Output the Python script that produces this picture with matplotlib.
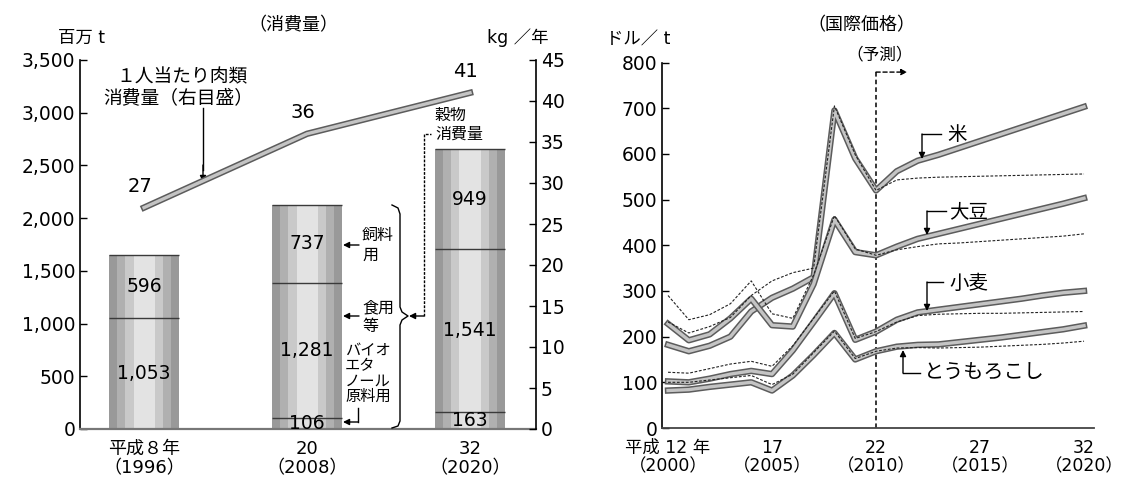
import matplotlib
matplotlib.use("Agg")
import matplotlib.pyplot as plt
from matplotlib.lines import Line2D

plt.rcParams['font.family'] = ['DejaVu Sans', 'Noto Sans CJK JP']

W, H = 1122, 478

# left panel: consumption (million t) and meat per person (kg/year)
cons_labels = ["平成８年\n（1996）", "20\n（2008）", "32\n（2020）"]
bio = [0, 106, 163]
food = [1053, 1281, 1541]
feed = [596, 737, 949]
meat = [27, 36, 41]

# right panel: international prices (USD/t), thick = nominal, thin = real
years = list(range(2000, 2021))
rice = [182, 168, 180, 200, 255, 285, 305, 330, 695, 590, 520,
        562, 585, 598, 613, 628, 643, 658, 673, 688, 703]
rice_real = [232, 208, 222, 242, 290, 322, 340, 350, 705, 598, 520,
             543, 547, 549, 550, 551, 552, 553, 554, 555, 556]
soy = [228, 192, 205, 240, 283, 225, 222, 315, 456, 385, 378,
       397, 414, 425, 436, 447, 458, 469, 480, 491, 503]
soy_real = [290, 237, 248, 272, 322, 250, 240, 335, 465, 392, 378,
            390, 397, 403, 405, 408, 411, 414, 417, 420, 425]
wheat = [102, 100, 108, 118, 125, 118, 170, 232, 295, 193, 211,
         237, 253, 259, 265, 271, 277, 283, 290, 296, 300]
wheat_real = [122, 120, 130, 140, 146, 135, 180, 240, 300, 196, 211,
              232, 246, 249, 250, 251, 251, 252, 253, 254, 255]
corn = [82, 84, 90, 95, 100, 82, 115, 160, 208, 150, 168,
        178, 182, 183, 188, 193, 198, 204, 210, 216, 224]
corn_real = [100, 100, 105, 110, 115, 95, 118, 165, 212, 152, 168,
             175, 176, 175, 176, 177, 179, 181, 183, 186, 190]
price_ticks = [2000, 2005, 2010, 2015, 2020]
price_labels = ["平成 12 年\n（2000）", "17\n（2005）", "22\n（2010）",
                "27\n（2015）", "32\n（2020）"]


def fx(px):
    return px / W


def fy(py):
    return 1 - py / H


fig = plt.figure(figsize=(W / 100, H / 100), dpi=100)


def ftext(x, y, s, size=12, ha='center'):
    fig.text(fx(x), fy(y), s, ha=ha, va='center', fontsize=size)


def fline(xs, ys, **kw):
    fig.add_artist(Line2D([fx(v) for v in xs], [fy(v) for v in ys],
                          transform=fig.transFigure, color='k', lw=1, **kw))


def farrow(ax, x0, y0, x1, y1, ls='-'):
    ax.annotate('', xy=(fx(x1), fy(y1)), xytext=(fx(x0), fy(y0)),
                xycoords='figure fraction', annotation_clip=False,
                arrowprops=dict(arrowstyle='-|>', color='k', lw=1,
                                linestyle=ls, mutation_scale=9,
                                shrinkA=0, shrinkB=0))


def thick(ax, x, y):
    ax.plot(x, y, color='#5c5c5c', lw=4.6, solid_joinstyle='round', zorder=3)
    ax.plot(x, y, color='#c4c4c4', lw=2.4, solid_joinstyle='round', zorder=3)


# ---------- left panel ----------
ax = fig.add_axes([80 / W, 49 / H, 456 / W, 369 / H])
x = list(range(len(cons_labels)))
bw = 0.43
shades = [(1.0, '#999999'), (0.78, '#b0b0b0'), (0.55, '#c9c9c9'), (0.3, '#e3e3e3')]
bottoms = [0, 0, 0]
for seg in (bio, food, feed):
    for frac, col in shades:
        ax.bar(x, seg, bottom=bottoms, width=bw * frac, color=col, lw=0, zorder=2)
    for i, v in enumerate(seg):
        if v > 0:
            ax.text(i, bottoms[i] + v / 2, f"{v:,}", ha='center', va='center',
                    fontsize=13.5, zorder=4)
            ax.hlines(bottoms[i] + v, i - bw / 2, i + bw / 2,
                      color='#3a3a3a', lw=1, zorder=3)
    bottoms = [b + v for b, v in zip(bottoms, seg)]

ax.set_xlim(-0.393, 2.405)
ax.set_ylim(0, 3500)
ax.set_yticks(range(0, 3501, 500))
ax.set_yticklabels([f"{v:,}" for v in range(0, 3501, 500)])
ax.set_xticks(x)
ax.set_xticklabels(cons_labels, linespacing=1.05)
ax.tick_params(axis='y', direction='in', length=5, labelsize=13.5, width=1)
ax.tick_params(axis='x', length=0, labelsize=13, pad=8)
for s in ('top', 'right'):
    ax.spines[s].set_visible(False)
ax.spines['left'].set_linewidth(1.2)
ax.spines['bottom'].set_color('#777777')
ax.spines['bottom'].set_linewidth(1.6)

ax2 = ax.twinx()
ax2.set_ylim(0, 45)
ax2.set_yticks(range(0, 46, 5))
ax2.tick_params(axis='y', direction='in', length=5, labelsize=13.5, width=1)
for s in ('top', 'left', 'bottom'):
    ax2.spines[s].set_visible(False)
ax2.spines['right'].set_linewidth(1.2)
thick(ax2, x, meat)
for i, v in enumerate(meat):
    ax2.annotate(str(v), (i, v), xytext=(-3, 15), textcoords='offset points',
                 ha='center', va='center', fontsize=14)

ftext(293, 25, "（消費量）", 13)
ftext(82, 38, "百万 t", 12.5)
ftext(518, 38, "kg ／年", 12.5)
ftext(182, 77, "１人当たり肉類", 13.5)
ftext(178, 98, "消費量（右目盛）", 13.5)
fline([203, 203], [108, 170])
farrow(ax, 203, 165, 203, 182)

# side notes between bars 2 and 3
ftext(362, 235, "飼料", 11.5, ha='left')
ftext(362, 255, "用", 11.5, ha='left')
farrow(ax, 359, 245, 343, 245)
ftext(362, 308, "食用", 11.5, ha='left')
ftext(362, 326, "等", 11.5, ha='left')
farrow(ax, 359, 316, 343, 316)
for k, s in enumerate(["バイオ", "エタ", "ノール", "原料用"]):
    ftext(345, 350 + 15.5 * k, s, 11, ha='left')
fline([358, 358], [408, 422])
farrow(ax, 358, 422, 343, 422)
# brace and link to 穀物消費量
fline([392, 398, 400, 400, 402, 408, 402, 400, 400, 398, 392],
      [205, 208, 214, 307, 312, 316, 320, 325, 421, 426, 428])
fline([424, 424, 431], [316, 134, 134], linestyle=(0, (2, 1)))
farrow(ax, 424, 316, 409, 316)
ftext(450, 115, "穀物", 11.5)
ftext(459, 134, "消費量", 11.5)

# ---------- right panel ----------
ax3 = fig.add_axes([662 / W, 50 / H, 432 / W, 365.5 / H])
for nom, real in ((rice, rice_real), (soy, soy_real),
                  (wheat, wheat_real), (corn, corn_real)):
    thick(ax3, years, nom)
    ax3.plot(years, real, color='#222222', lw=0.8, ls=(0, (2.5, 1.5)), zorder=4)

ax3.set_xlim(1999.71, 2020.48)
ax3.set_ylim(0, 800)
ax3.set_yticks(range(0, 801, 100))
ax3.set_xticks(price_ticks)
ax3.set_xticklabels(price_labels, linespacing=1.05)
ax3.tick_params(axis='y', direction='in', length=5, labelsize=13.5, width=1)
ax3.tick_params(axis='x', length=0, labelsize=12.5, pad=8)
for s in ('top', 'right'):
    ax3.spines[s].set_visible(False)
ax3.spines['left'].set_linewidth(1.2)
ax3.spines['bottom'].set_color('#444444')
ax3.spines['bottom'].set_linewidth(1.3)

ax3.plot([2010, 2010], [0, 779], color='k', lw=1.1, ls=(0, (3, 2)))
ax3.annotate('', xy=(2011.5, 779), xytext=(2010, 779),
             arrowprops=dict(arrowstyle='-|>', color='k', lw=1,
                             linestyle=(0, (3, 2)), mutation_scale=9,
                             shrinkA=0, shrinkB=0))

ftext(861, 25, "（国際価格）", 13)
ftext(880, 54, "（予測）", 12)
ftext(638, 40, "ドル／ t", 12.5)

fline([922, 941], [134, 134])
farrow(ax3, 922, 134, 922, 159)
ftext(957, 135, "米", 14)
fline([927, 946], [211, 211])
farrow(ax3, 927, 211, 927, 235)
ftext(969, 212, "大豆", 14)
fline([927, 943], [282, 282])
farrow(ax3, 927, 282, 927, 311)
ftext(969, 283, "小麦", 14)
fline([903, 920], [373, 373])
farrow(ax3, 903, 373, 903, 350)
ftext(924, 373, "とうもろこし", 14.5, ha='left')

fig.savefig("out.png", dpi=100)
